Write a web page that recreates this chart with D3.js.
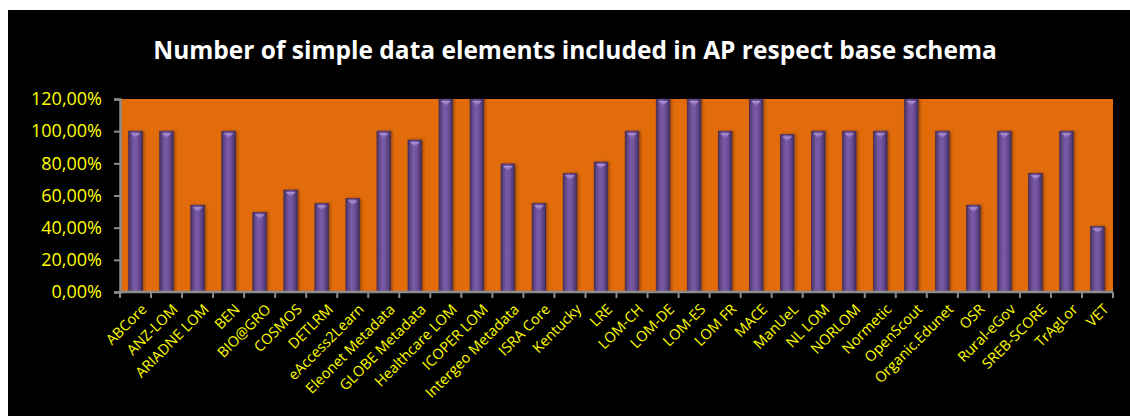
<!DOCTYPE html>
<html>
<head>
<meta charset="utf-8">
<script src="https://cdn.jsdelivr.net/npm/d3@7/dist/d3.min.js"></script>
<style>
  html, body { margin: 0; padding: 0; background: #ffffff; }
  svg { display: block; }
</style>
</head>
<body>
<div id="chart"></div>
<script>
// Application profiles and the share of simple data elements each keeps from its base schema
const categories = [
  "ABCore", "ANZ-LOM", "ARIADNE LOM", "BEN", "BIO@GRO", "COSMOS", "DETLRM",
  "eAccess2Learn", "Eleonet Metadata", "GLOBE Metadata", "Healthcare LOM",
  "ICOPER LOM", "Intergeo Metadata", "ISRA Core", "Kentucky", "LRE", "LOM-CH",
  "LOM-DE", "LOM-ES", "LOM FR", "MACE", "ManUeL", "NL LOM", "NORLOM",
  "Normetic", "OpenScout", "Organic.Edunet", "OSR", "Rural-eGov",
  "SREB-SCORE", "TrAgLor", "VET"
];
const values = [
  100, 100, 54, 100, 49.5, 63.4, 55.1,
  58.2, 100, 94.5, 120,
  120, 79.6, 55.1, 73.8, 80.8, 100,
  120, 120, 100, 120, 98, 100, 100,
  100, 120, 100, 54, 100,
  73.8, 100, 40.8
];
const yTicks = [0, 20, 40, 60, 80, 100, 120];
const title = "Number of simple data elements included in AP respect base schema";

const W = 1130, H = 416;
const plot = { left: 120, top: 99, right: 1113, bottom: 292 };

const svg = d3.select("#chart").append("svg")
  .attr("width", W).attr("height", H);

// chart frame
svg.append("rect").attr("x", 8).attr("y", 10)
  .attr("width", W - 8).attr("height", H - 10).attr("fill", "#000000");

const defs = svg.append("defs");
const grad = defs.append("linearGradient").attr("id", "barFill")
  .attr("x1", "0%").attr("x2", "100%").attr("y1", "0%").attr("y2", "0%");
[["0%", "#45305f"], ["18%", "#634888"], ["40%", "#7a5aa6"], ["60%", "#7455a0"],
 ["85%", "#573f7c"], ["100%", "#402c5a"]].forEach(([o, c]) =>
  grad.append("stop").attr("offset", o).attr("stop-color", c));

const capGrad = defs.append("linearGradient").attr("id", "capFill")
  .attr("x1", "0%").attr("x2", "0%").attr("y1", "0%").attr("y2", "100%");
[["0%", "#b89de0"], ["100%", "#7a5aa6"]].forEach(([o, c]) =>
  capGrad.append("stop").attr("offset", o).attr("stop-color", c));

const shadow = defs.append("filter").attr("id", "barShadow")
  .attr("x", "-40%").attr("y", "-5%").attr("width", "180%").attr("height", "110%");
shadow.append("feDropShadow").attr("dx", 1.5).attr("dy", 0)
  .attr("stdDeviation", 1.5).attr("flood-color", "#000").attr("flood-opacity", 0.35);

const x = d3.scaleBand().domain(categories)
  .range([plot.left, plot.right]).paddingInner(0.56).paddingOuter(0.28);
const xb = d3.scaleBand().domain(categories).range([plot.left, plot.right]);
const y = d3.scaleLinear().domain([0, 120]).range([plot.bottom, plot.top]);

// plot area
svg.append("rect").attr("x", plot.left).attr("y", plot.top)
  .attr("width", plot.right - plot.left).attr("height", plot.bottom - plot.top)
  .attr("fill", "#e36c0a");

// title
svg.append("text").attr("x", 575).attr("y", 59)
  .attr("text-anchor", "middle")
  .attr("font-family", "'Open Sans', sans-serif").attr("font-weight", "bold")
  .attr("font-size", 24.5).attr("fill", "#ffffff")
  .text(title);

// bars
const bars = svg.append("g").selectAll("g.bar").data(categories).join("g")
  .attr("class", "bar").attr("filter", "url(#barShadow)");
bars.append("rect")
  .attr("x", d => x(d))
  .attr("y", (d, i) => y(Math.min(values[i], 120)))
  .attr("width", x.bandwidth())
  .attr("height", (d, i) => y(0) - y(Math.min(values[i], 120)))
  .attr("fill", "url(#barFill)")
  .attr("stroke", "#3d2a57").attr("stroke-width", 0.6);
// highlighted cap at the top of each bar
bars.append("path")
  .attr("d", (d, i) => {
    const x0 = x(d) + 2, w = x.bandwidth() - 4, t = y(Math.min(values[i], 120)) + 2;
    return `M${x0},${t} L${x0 + w},${t} L${x0 + w / 2},${t + 5} Z`;
  })
  .attr("fill", "url(#capFill)").attr("opacity", 0.9);

// axes
const axisColor = "#8c8c8c";
const yAxis = svg.append("g").attr("transform", `translate(${plot.left},0)`)
  .call(d3.axisLeft(y).tickValues(yTicks).tickSize(6).tickPadding(12)
    .tickFormat(v => d3.format(".2f")(v).replace(".", ",") + "%"));
yAxis.select(".domain").attr("stroke", axisColor).attr("stroke-width", 2.5);
yAxis.selectAll(".tick line").attr("stroke", axisColor).attr("stroke-width", 2);
yAxis.selectAll("text").attr("fill", "#ffff00")
  .attr("font-family", "'Open Sans', sans-serif").attr("font-size", 18);

const boundaries = categories.map(c => xb(c)).concat([plot.right]);
svg.append("g").selectAll("line").data(boundaries).join("line")
  .attr("x1", d => d).attr("x2", d => d)
  .attr("y1", plot.bottom).attr("y2", plot.bottom + 6)
  .attr("stroke", axisColor).attr("stroke-width", 2);
svg.append("line").attr("x1", plot.left - 1).attr("x2", plot.right)
  .attr("y1", plot.bottom).attr("y2", plot.bottom)
  .attr("stroke", axisColor).attr("stroke-width", 2.5);

// category labels
svg.append("g").selectAll("text").data(categories).join("text")
  .attr("transform", d => `translate(${xb(d) + xb.bandwidth() / 2 + 5},${plot.bottom + 11}) rotate(-45)`)
  .attr("text-anchor", "end").attr("dy", "0.7em")
  .attr("font-family", "'Open Sans', sans-serif").attr("font-size", 14.5)
  .attr("fill", "#ffff00")
  .text(d => d);
</script>
</body>
</html>
